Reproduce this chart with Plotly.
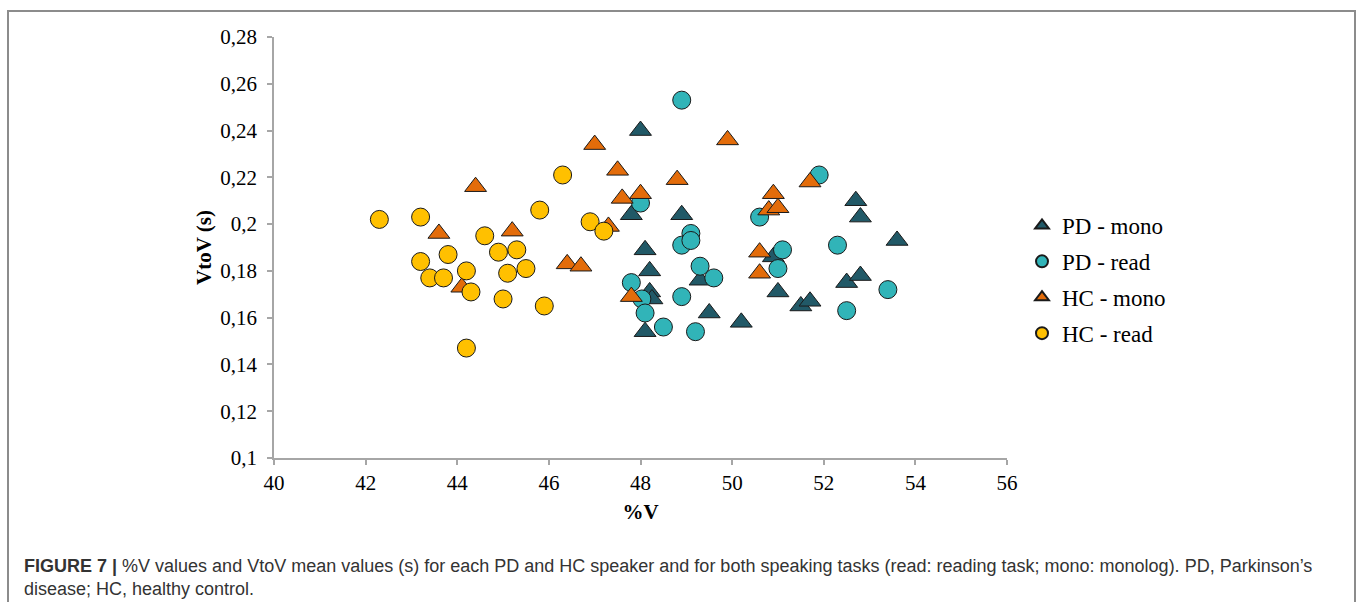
import plotly.graph_objects as go

# Data (%V, VtoV in s)
pd_mono_x = [48.0, 47.8, 48.9, 48.1, 48.2, 48.2, 48.25, 48.1, 49.3, 49.5,
             50.2, 50.9, 51.0, 51.5, 51.7, 52.5, 52.8, 52.7, 52.8, 53.6]
pd_mono_y = [0.240, 0.204, 0.204, 0.189, 0.180, 0.171, 0.168, 0.154, 0.176, 0.162,
             0.158, 0.186, 0.171, 0.165, 0.167, 0.175, 0.178, 0.210, 0.203, 0.193]

pd_read_x = [48.9, 51.9, 48.0, 50.6, 49.1, 48.9, 49.1, 51.1, 51.0, 52.3,
             52.5, 53.4, 49.3, 49.6, 47.8, 48.03, 48.1, 48.9, 48.5, 49.2]
pd_read_y = [0.253, 0.221, 0.209, 0.203, 0.196, 0.191, 0.193, 0.189, 0.181, 0.191,
             0.163, 0.172, 0.182, 0.177, 0.175, 0.168, 0.162, 0.169, 0.156, 0.154]

hc_mono_x = [44.4, 43.6, 45.2, 46.4, 46.7, 44.1, 47.0, 49.9, 47.5, 48.8,
             47.6, 48.0, 47.3, 47.8, 50.9, 50.8, 51.0, 51.7, 50.6, 50.6]
hc_mono_y = [0.216, 0.196, 0.197, 0.183, 0.182, 0.173, 0.234, 0.236, 0.223, 0.219,
             0.211, 0.213, 0.199, 0.169, 0.213, 0.206, 0.207, 0.218, 0.188, 0.179]

hc_read_x = [42.3, 43.2, 46.3, 45.8, 46.9, 47.2, 44.6, 43.8, 44.9, 45.3,
             43.2, 43.4, 43.7, 44.2, 45.5, 45.1, 44.3, 45.0, 45.9, 44.2]
hc_read_y = [0.202, 0.203, 0.221, 0.206, 0.201, 0.197, 0.195, 0.187, 0.188, 0.189,
             0.184, 0.177, 0.177, 0.180, 0.181, 0.179, 0.171, 0.168, 0.165, 0.147]

series_names = ["PD - mono", "PD - read", "HC - mono", "HC - read"]
series_colors = ["#215967", "#31b4b8", "#e36c0a", "#ffc000"]
series_symbols = ["triangle-up", "circle", "triangle-up", "circle"]
series_x = [pd_mono_x, pd_read_x, hc_mono_x, hc_read_x]
series_y = [pd_mono_y, pd_read_y, hc_mono_y, hc_read_y]

caption = ("<b>FIGURE 7 |</b> %V values and VtoV mean values (s) for each PD and HC speaker "
           "and for both speaking tasks (read: reading task; mono: monolog). PD, Parkinson’s"
           "<br>disease; HC, healthy control.")

W, H = 1357, 602
L, R, T, B = 274, 350, 37, 144
pw, ph = W - L - R, H - T - B

def px_x(p):
    return (p - L) / pw

def px_y(p):
    return 1 - (p - T) / ph

fig = go.Figure()
for name, col, sym, xs, ys in zip(series_names, series_colors, series_symbols, series_x, series_y):
    size = 18 if sym == "circle" else 19
    fig.add_trace(go.Scatter(
        x=xs, y=ys, mode="markers", name=name, legendgroup=name,
        marker=dict(symbol=sym, size=size, color=col,
                    line=dict(color="#1a1a1a", width=1)),
    ))

serif = "Liberation Serif, Times New Roman, serif"
axis_col = "#a6a6a6"
fig.update_layout(
    width=W, height=H,
    margin=dict(l=L, r=R, t=T, b=B),
    paper_bgcolor="white", plot_bgcolor="white",
    separators=",.",
    font=dict(family=serif, size=21, color="#000000"),
    showlegend=True,
    legend=dict(x=px_x(1022), y=px_y(279.5), xanchor="left", yanchor="middle",
                font=dict(family=serif, size=23, color="#000000"),
                itemsizing="constant", traceorder="grouped", tracegroupgap=3,
                bgcolor="rgba(0,0,0,0)"),
    xaxis=dict(range=[40, 56], dtick=2, tick0=40, showgrid=False, zeroline=False,
               showline=True, linecolor=axis_col, linewidth=1.5,
               ticks="outside", ticklen=5, tickcolor=axis_col, tickwidth=1.5,
               tickfont=dict(family=serif, size=21),
               title=dict(text="<b>%V</b>", font=dict(family=serif, size=21), standoff=10)),
    yaxis=dict(range=[0.1, 0.28], dtick=0.02, tick0=0.1, showgrid=False, zeroline=False,
               showline=True, linecolor=axis_col, linewidth=1.5,
               ticks="outside", ticklen=5, tickcolor=axis_col, tickwidth=1.5,
               ticklabelstandoff=6,
               tickfont=dict(family=serif, size=21),
               title=dict(text="<b>VtoV (s)</b>", font=dict(family=serif, size=21), standoff=3)),
)

# Figure frame
fig.add_shape(type="rect", xref="paper", yref="paper",
              x0=px_x(8), x1=px_x(1355), y0=px_y(640), y1=px_y(11),
              line=dict(color="#8c8c8c", width=2), fillcolor="rgba(0,0,0,0)", layer="below")

fig.add_annotation(text=caption, xref="paper", yref="paper",
                   x=px_x(22), y=px_y(554), xanchor="left", yanchor="top",
                   align="left", showarrow=False,
                   font=dict(family="Liberation Sans, Arial, sans-serif", size=18, color="#333333"))

fig.write_html("out.html")
